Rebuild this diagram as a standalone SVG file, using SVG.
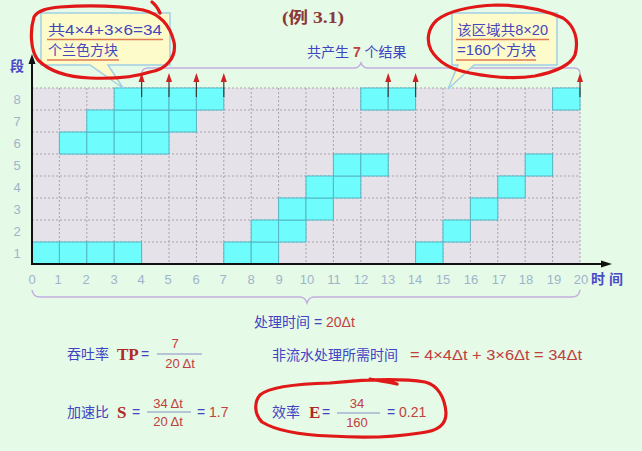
<svg xmlns="http://www.w3.org/2000/svg" width="642" height="451" viewBox="0 0 642 451">
<style>
.bg{fill:#e5fae7}
.cjk{font-family:"Liberation Sans","Noto Sans CJK SC",sans-serif}
.blue{fill:#4242c4}
.red{fill:#c04040}
.lbl{font-family:"Liberation Sans","Noto Sans CJK SC",sans-serif;font-size:13px;fill:#9fb4cc;text-anchor:middle}
.grid{stroke:#a9a2ad;stroke-width:1;stroke-dasharray:2 2;fill:none}
.cell{fill:#6ffcfc;stroke:#55b6c6;stroke-width:1}
.brace{fill:none;stroke:#c2aee0;stroke-width:1.5}
.ink{fill:none;stroke:#e01818;stroke-width:3.2;stroke-linecap:round;stroke-linejoin:round}
.call{fill:#fdfbca;stroke:#9fcfe6;stroke-width:1.5}
.ul{stroke:#e07a50;stroke-width:1.5}
.arr{stroke:#3a3a3a;stroke-width:1.2}
.head{fill:#d02020}
.f14{font-size:14px}
</style>
<rect class="bg" x="0" y="0" width="642" height="451"/>

<text x="313" y="23" text-anchor="middle" font-family="'Liberation Serif','Noto Sans CJK SC',serif" font-size="16" font-weight="bold" fill="#8a3838" textLength="62" lengthAdjust="spacingAndGlyphs">(例 3.1)</text>

<!-- grid -->
<g id="grid">
<rect x="32" y="88" width="548" height="176" fill="#e6e2ea"/>
<path class="grid" d="M32,88H580M32,110H580M32,132H580M32,154H580M32,176H580M32,198H580M32,220H580M32,242H580
M59.4,88V264M86.8,88V264M114.2,88V264M141.6,88V264M169,88V264M196.4,88V264M223.8,88V264M251.2,88V264M278.6,88V264M306,88V264
M333.4,88V264M360.8,88V264M388.2,88V264M415.6,88V264M443,88V264M470.4,88V264M497.8,88V264M525.2,88V264M552.6,88V264M580,88V264"/>
</g>

<g id="cells">
<!-- row1 -->
<rect class="cell" x="32" y="242" width="27.4" height="22"/>
<rect class="cell" x="59.4" y="242" width="27.4" height="22"/>
<rect class="cell" x="86.8" y="242" width="27.4" height="22"/>
<rect class="cell" x="114.2" y="242" width="27.4" height="22"/>
<rect class="cell" x="223.8" y="242" width="27.4" height="22"/>
<rect class="cell" x="251.2" y="242" width="27.4" height="22"/>
<rect class="cell" x="415.6" y="242" width="27.4" height="22"/>
<!-- row2 -->
<rect class="cell" x="251.2" y="220" width="27.4" height="22"/>
<rect class="cell" x="278.6" y="220" width="27.4" height="22"/>
<rect class="cell" x="443" y="220" width="27.4" height="22"/>
<!-- row3 -->
<rect class="cell" x="278.6" y="198" width="27.4" height="22"/>
<rect class="cell" x="306" y="198" width="27.4" height="22"/>
<rect class="cell" x="470.4" y="198" width="27.4" height="22"/>
<!-- row4 -->
<rect class="cell" x="306" y="176" width="27.4" height="22"/>
<rect class="cell" x="333.4" y="176" width="27.4" height="22"/>
<rect class="cell" x="497.8" y="176" width="27.4" height="22"/>
<!-- row5 -->
<rect class="cell" x="333.4" y="154" width="27.4" height="22"/>
<rect class="cell" x="360.8" y="154" width="27.4" height="22"/>
<rect class="cell" x="525.2" y="154" width="27.4" height="22"/>
<!-- row6 -->
<rect class="cell" x="59.4" y="132" width="27.4" height="22"/>
<rect class="cell" x="86.8" y="132" width="27.4" height="22"/>
<rect class="cell" x="114.2" y="132" width="27.4" height="22"/>
<rect class="cell" x="141.6" y="132" width="27.4" height="22"/>
<!-- row7 -->
<rect class="cell" x="86.8" y="110" width="27.4" height="22"/>
<rect class="cell" x="114.2" y="110" width="27.4" height="22"/>
<rect class="cell" x="141.6" y="110" width="27.4" height="22"/>
<rect class="cell" x="169" y="110" width="27.4" height="22"/>
<!-- row8 -->
<rect class="cell" x="114.2" y="88" width="27.4" height="22"/>
<rect class="cell" x="141.6" y="88" width="27.4" height="22"/>
<rect class="cell" x="169" y="88" width="27.4" height="22"/>
<rect class="cell" x="196.4" y="88" width="27.4" height="22"/>
<rect class="cell" x="360.8" y="88" width="27.4" height="22"/>
<rect class="cell" x="388.2" y="88" width="27.4" height="22"/>
<rect class="cell" x="552.6" y="88" width="27.4" height="22"/>
</g>

<g id="axes">
<line x1="32" y1="265" x2="32" y2="62" stroke="#111" stroke-width="2"/>
<polygon points="32,54 28.5,64 35.5,64" fill="#111"/>
<line x1="31" y1="264" x2="604" y2="264" stroke="#111" stroke-width="2"/>
<polygon points="612,264 601,260.5 601,267.5" fill="#111"/>
<text class="cjk" x="17" y="71" text-anchor="middle" font-size="14" font-weight="bold" fill="#4a4ac8">段</text>
<text class="cjk" x="591" y="284" font-size="14" font-weight="bold" fill="#4a4ac8">时 间</text>
</g>

<g id="rowlabels">
<text class="lbl" x="17" y="258">1</text>
<text class="lbl" x="17" y="236">2</text>
<text class="lbl" x="17" y="214">3</text>
<text class="lbl" x="17" y="192">4</text>
<text class="lbl" x="17" y="170">5</text>
<text class="lbl" x="17" y="148">6</text>
<text class="lbl" x="17" y="126">7</text>
<text class="lbl" x="17" y="104">8</text>
</g>

<g id="timelabels">
<text class="lbl" x="32" y="284">0</text>
<text class="lbl" x="58" y="284">1</text>
<text class="lbl" x="86" y="284">2</text>
<text class="lbl" x="114" y="284">3</text>
<text class="lbl" x="141" y="284">4</text>
<text class="lbl" x="168" y="284">5</text>
<text class="lbl" x="196" y="284">6</text>
<text class="lbl" x="223" y="284">7</text>
<text class="lbl" x="251" y="284">8</text>
<text class="lbl" x="279" y="284">9</text>
<text class="lbl" x="307" y="284">10</text>
<text class="lbl" x="334" y="284">11</text>
<text class="lbl" x="361" y="284">12</text>
<text class="lbl" x="388" y="284">13</text>
<text class="lbl" x="415" y="284">14</text>
<text class="lbl" x="443" y="284">15</text>
<text class="lbl" x="471" y="284">16</text>
<text class="lbl" x="499" y="284">17</text>
<text class="lbl" x="526" y="284">18</text>
<text class="lbl" x="554" y="284">19</text>
<text class="lbl" x="581" y="284">20</text>
</g>

<g id="connectors">
<g id="results">
<line class="arr" x1="141.6" y1="97" x2="141.6" y2="80"/><polygon class="head" points="141.6,73 138.6,82 144.6,82"/>
<line class="arr" x1="169" y1="97" x2="169" y2="80"/><polygon class="head" points="169,73 166,82 172,82"/>
<line class="arr" x1="196.4" y1="97" x2="196.4" y2="80"/><polygon class="head" points="196.4,73 193.4,82 199.4,82"/>
<line class="arr" x1="223.8" y1="97" x2="223.8" y2="80"/><polygon class="head" points="223.8,73 220.8,82 226.8,82"/>
<line class="arr" x1="388.2" y1="97" x2="388.2" y2="80"/><polygon class="head" points="388.2,73 385.2,82 391.2,82"/>
<line class="arr" x1="415.6" y1="97" x2="415.6" y2="80"/><polygon class="head" points="415.6,73 412.6,82 418.6,82"/>
<line class="arr" x1="580" y1="97" x2="580" y2="80"/><polygon class="head" points="580,73 577,82 583,82"/>
</g>
<path class="brace" d="M141.6,74 Q142,68 148,68 L354,68 Q359,68 361,63 Q363,68 368,68 L574,68 Q580,68 580,74"/>
<path class="brace" d="M32,290 Q33,297 40,297 L300,297 Q305,297 307,303 Q309,297 314,297 L572,297 Q579,297 580,290"/>
</g>

<text class="cjk f14" x="307" y="57" font-size="13"><tspan class="blue">共产生 </tspan><tspan class="red" font-weight="bold">7</tspan><tspan class="blue"> 个结果</tspan></text>
<text class="cjk f14" x="254" y="327"><tspan class="blue">处理时间 = </tspan><tspan class="red">20Δt</tspan></text>

<g id="callout1">
<path class="call" d="M41,13 H170 V65 H108 L123,88 L90,65 H41 Z"/>
<text class="cjk f14" fill="#4646bc" x="48" y="35" textLength="114" lengthAdjust="spacingAndGlyphs">共4×4+3×6=34</text>
<line class="ul" x1="47" y1="39.5" x2="163" y2="39.5"/>
<text class="cjk f14" fill="#4646bc" x="48" y="55">个兰色方块</text>
<line class="ul" x1="47" y1="60" x2="119" y2="60"/>
</g>

<g id="callout2">
<path class="call" d="M452,13 H557 V65 H474 L448,89 L458,65 H452 Z"/>
<text class="cjk f14" fill="#4646bc" x="457" y="35" textLength="91" lengthAdjust="spacingAndGlyphs">该区域共8×20</text>
<line class="ul" x1="456" y1="39.5" x2="549" y2="39.5"/>
<text class="cjk f14" fill="#4646bc" x="457" y="55" textLength="79" lengthAdjust="spacingAndGlyphs">=160个方块</text>
<line class="ul" x1="456" y1="60" x2="536" y2="60"/>
</g>

<g id="formulas">
<text class="cjk f14 blue" x="67" y="359">吞吐率</text>
<text x="117" y="360" font-family="'Liberation Serif',serif" font-size="17" font-weight="bold" fill="#b02828">TP</text>
<text class="cjk f14 blue" x="141" y="359">=</text>
<text class="cjk red" font-size="13" x="175" y="348" text-anchor="middle">7</text>
<line x1="157" y1="354" x2="202" y2="354" stroke="#8c8cc8" stroke-width="1.2"/>
<text class="cjk red" font-size="13" x="180" y="368" text-anchor="middle">20 Δt</text>

<text class="cjk f14 blue" x="272" y="360">非流水处理所需时间</text>
<text class="cjk f14 red" x="410" y="360" textLength="172" lengthAdjust="spacingAndGlyphs">= 4×4Δt + 3×6Δt = 34Δt</text>

<text class="cjk f14 blue" x="67" y="417">加速比</text>
<text x="117" y="418" font-family="'Liberation Serif',serif" font-size="17" font-weight="bold" fill="#b02828">S</text>
<text class="cjk f14 blue" x="132" y="417">=</text>
<text class="cjk red" font-size="13" x="168" y="408" text-anchor="middle">34 Δt</text>
<line x1="147" y1="412" x2="191" y2="412" stroke="#8c8cc8" stroke-width="1.2"/>
<text class="cjk red" font-size="13" x="168" y="426" text-anchor="middle">20 Δt</text>
<text class="cjk f14" x="197" y="417"><tspan class="blue">=</tspan><tspan class="red"> 1.7</tspan></text>

<text class="cjk f14 blue" x="272" y="417">效率</text>
<text x="309" y="418" font-family="'Liberation Serif',serif" font-size="17" font-weight="bold" fill="#b02828">E</text>
<text class="cjk f14 blue" x="322" y="417">=</text>
<text class="cjk red" font-size="13" x="357" y="408" text-anchor="middle">34</text>
<line x1="337" y1="413" x2="380" y2="413" stroke="#8c8cc8" stroke-width="1.2"/>
<text class="cjk red" font-size="13" x="357" y="427" text-anchor="middle">160</text>
<text class="cjk f14" x="387" y="417"><tspan class="blue">=</tspan><tspan class="red"> 0.21</tspan></text>
</g>

<g id="annotations">
<path class="ink" d="M152,2 Q157,6 160,13 M143,10 C160,14 170,25 174,42 C177,58 165,70 150,72 C135,77 115,79 90,78 C65,77 48,70 38,60 C30,50 30,30 34,17 C38,10 48,8 60,7 C90,5 120,6 143,10"/>
<path class="ink" d="M437,20 C450,10 470,6 497,5 C520,5 545,10 563,18 C575,26 579,40 575,55 C570,66 555,72 535,76 C515,79 490,77 470,73 C452,70 438,62 431,50 C426,40 428,28 437,20"/>
<path class="ink" d="M370,379 C380,381 390,382 397,384 M330,383 C360,380 400,378 425,382 C438,385 445,398 446,413 C446,425 438,431 420,433 C395,437 360,438 330,436 C300,435 275,430 262,422 C254,414 254,402 260,395 C268,388 290,384 330,383"/>
</g>
</svg>
